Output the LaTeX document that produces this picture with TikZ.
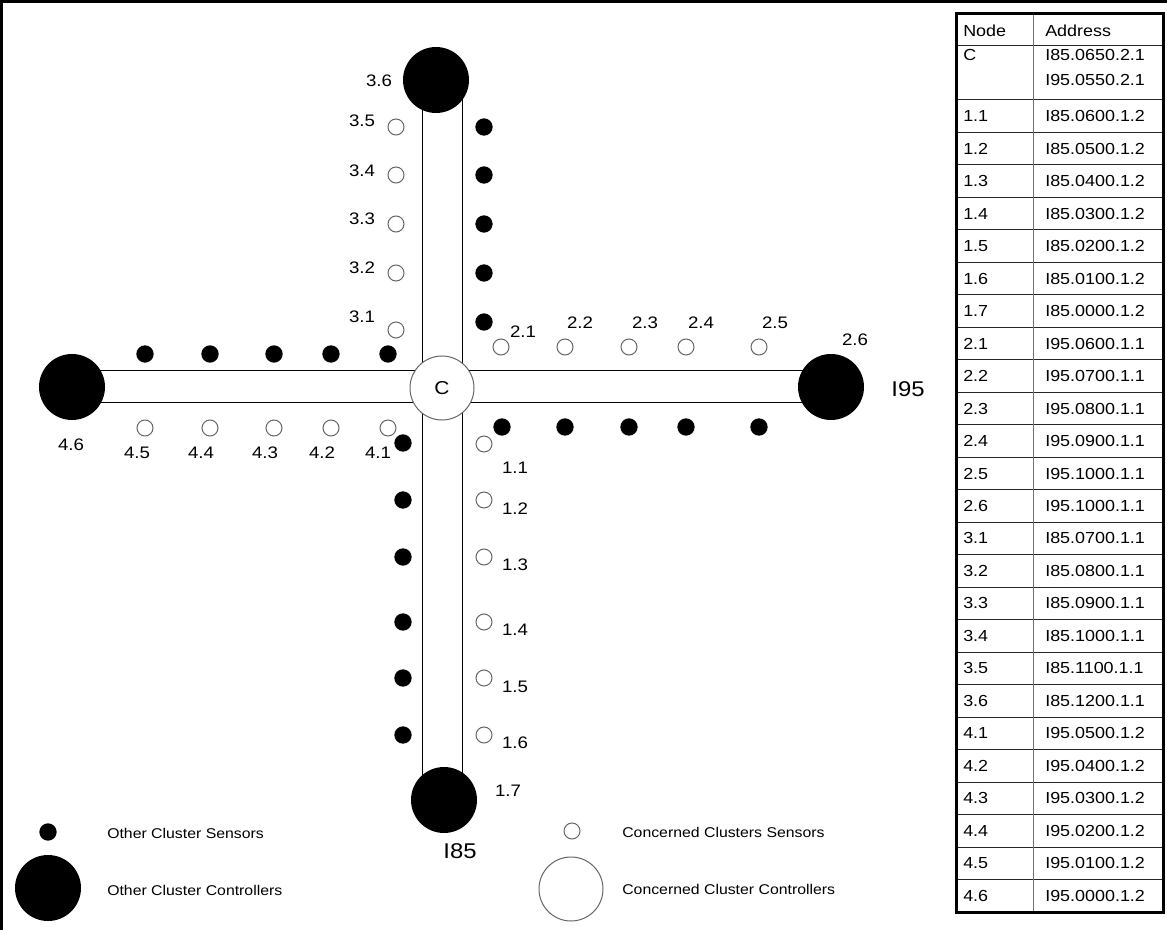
\documentclass[tikz,border=0pt]{standalone}
\usepackage{fontspec}
\setmainfont{Liberation Sans}[FakeStretch=1.12]
\usetikzlibrary{calc,backgrounds}

\begin{document}
\begin{tikzpicture}[x=0.75pt, y=-0.75pt,
   font=\fontsize{12.5}{14}\selectfont,
   osens/.style={circle, draw=black!60, fill=white, line width=0.75pt, minimum size=12pt, inner sep=0pt},
   fsens/.style={circle, fill=black, minimum size=13pt, inner sep=0pt},
   octrl/.style={circle, draw=black!60, fill=white, line width=0.75pt, minimum size=48pt, inner sep=0pt},
   fctrl/.style={circle, fill=black, minimum size=49.5pt, inner sep=0pt},
   lbl/.style={inner sep=0pt},
   hwy/.style={inner sep=0pt, font=\fontsize{16}{18}\selectfont},
   legtext/.style={anchor=west, inner sep=0pt, font=\fontsize{10.6}{12}\selectfont},
   tabtext/.style={anchor=west, inner sep=0pt, font=\fontsize{12}{14}\selectfont},
   road/.style={line width=0.75pt}]
   \useasboundingbox (0,0) rectangle (1167,930);
   \draw[line width=2.25pt] (0,1.5) -- (1167,1.5);
   \draw[line width=2.25pt] (1.5,0) -- (1.5,930);

   % controllers
   \node[octrl, font=\fontsize{14}{16}\selectfont] (cC) at (442,388) {C};
   \node[fctrl] (c36) at (436,80) {};
   \node[fctrl] (c17) at (444,800) {};
   \node[fctrl] (c46) at (72,387) {};
   \node[fctrl] (c26) at (831,387) {};

   % roads
   \begin{scope}[on background layer]
      \coordinate (vl) at ($(cC)+(-20,0)$);
      \coordinate (vr) at ($(cC)+(20,0)$);
      \draw[road] ($(c46)+(0,-16)$) -- ($(c26)+(0,-16)$);
      \draw[road] ($(c46)+(0,16)$) -- ($(c26)+(0,16)$);
      \draw[road] (vl |- c36) -- (vl |- c17);
      \draw[road] (vr |- c36) -- (vr |- c17);
   \end{scope}

   % concerned cluster sensors
   \foreach \y [count=\i] in {444,500,557,622,678,735}
      \node[osens] (s1\i) at (484,\y) {};
   \foreach \x [count=\i] in {501,565,629,686,759}
      \node[osens] (s2\i) at (\x,347) {};
   \foreach \y [count=\i] in {330,273,224,175,127}
      \node[osens] (s3\i) at (396,\y) {};
   \foreach \x [count=\i] in {388,331,274,210,145}
      \node[osens] (s4\i) at (\x,428) {};

   % other cluster sensors
   \foreach \y [count=\i] in {443,500,557,622,678,735}
      \node[fsens] (d\i) at (403,\y) {};
   \foreach \x [count=\i] in {502,565,629,686,759}
      \node[fsens] (r\i) at (\x,427) {};
   \foreach \y [count=\i] in {322,273,224,175,127}
      \node[fsens] (u\i) at (484,\y) {};
   \foreach \x [count=\i] in {388,331,274,210,145}
      \node[fsens] (l\i) at (\x,354) {};

   % labels
   \foreach \y [count=\i] in {468,509,565,630,687,743}
      \node[lbl] (t1\i) at (515,\y) {1.\i};
   \node[lbl] (t17) at (508,791) {1.7};
   \foreach \x/\y [count=\i] in {523/332,580/323,645/323,701/323,775/323}
      \node[lbl] (t2\i) at (\x,\y) {2.\i};
   \node[lbl] (t26) at (855,340) {2.6};
   \foreach \y [count=\i] in {317,268,219,171,121}
      \node[lbl] (t3\i) at (362,\y) {3.\i};
   \node[lbl] (t36) at (379,81) {3.6};
   \foreach \x [count=\i] in {378,322,265,201,137}
      \node[lbl] (t4\i) at (\x,453) {4.\i};
   \node[lbl] (t46) at (71,445) {4.6};
   \node[hwy] (i95) at (908,389) {I95};
   \node[hwy] (i85) at (460,851) {I85};

   % legend
   \node[fsens] (kf1) at (48,832) {};
   \node[fctrl] (kf2) at (48,888) {};
   \node[osens] (ko1) at (572,831) {};
   \node[octrl] (ko2) at (571,889) {};
   \node[legtext] (kt1) at (107,833) {Other Cluster Sensors};
   \node[legtext] (kt2) at (107,890) {Other Cluster Controllers};
   \node[legtext] (kt3) at (622,832) {Concerned Clusters Sensors};
   \node[legtext] (kt4) at (622,889) {Concerned Cluster Controllers};

   % address table
   \foreach \k in {1,...,24}
      \draw[black!85, line width=0.75pt] (956,{100+32.48*\k}) -- (1163,{100+32.48*\k});
   \draw[black!85, line width=0.75pt] (956,46) -- (1163,46);
   \draw[black!85, line width=0.75pt] (956,100) -- (1163,100);
   \draw[black!55, line width=0.75pt] (1033,14) -- (1033,912);
   \draw[line width=2.25pt] (956,14) rectangle (1163,912);
   \node[tabtext] (hn) at (963,31) {Node};
   \node[tabtext] (ha) at (1045,31) {Address};
   \node[tabtext] (nC) at (963,55) {C};
   \node[tabtext] (aC1) at (1045,55) {I85.0650.2.1};
   \node[tabtext] (aC2) at (1045,80) {I95.0550.2.1};
   \foreach \n/\a [count=\i] in {1.1/I85.0600.1.2, 1.2/I85.0500.1.2, 1.3/I85.0400.1.2,
         1.4/I85.0300.1.2, 1.5/I85.0200.1.2, 1.6/I85.0100.1.2, 1.7/I85.0000.1.2,
         2.1/I95.0600.1.1, 2.2/I95.0700.1.1, 2.3/I95.0800.1.1, 2.4/I95.0900.1.1,
         2.5/I95.1000.1.1, 2.6/I95.1000.1.1, 3.1/I85.0700.1.1, 3.2/I85.0800.1.1,
         3.3/I85.0900.1.1, 3.4/I85.1000.1.1, 3.5/I85.1100.1.1, 3.6/I85.1200.1.1,
         4.1/I95.0500.1.2, 4.2/I95.0400.1.2, 4.3/I95.0300.1.2, 4.4/I95.0200.1.2,
         4.5/I95.0100.1.2, 4.6/I95.0000.1.2} {
      \node[tabtext] (n\i) at (963,{100+32.48*(\i-0.5)}) {\n};
      \node[tabtext] (a\i) at (1045,{100+32.48*(\i-0.5)}) {\a};
   }
\end{tikzpicture}
\end{document}
